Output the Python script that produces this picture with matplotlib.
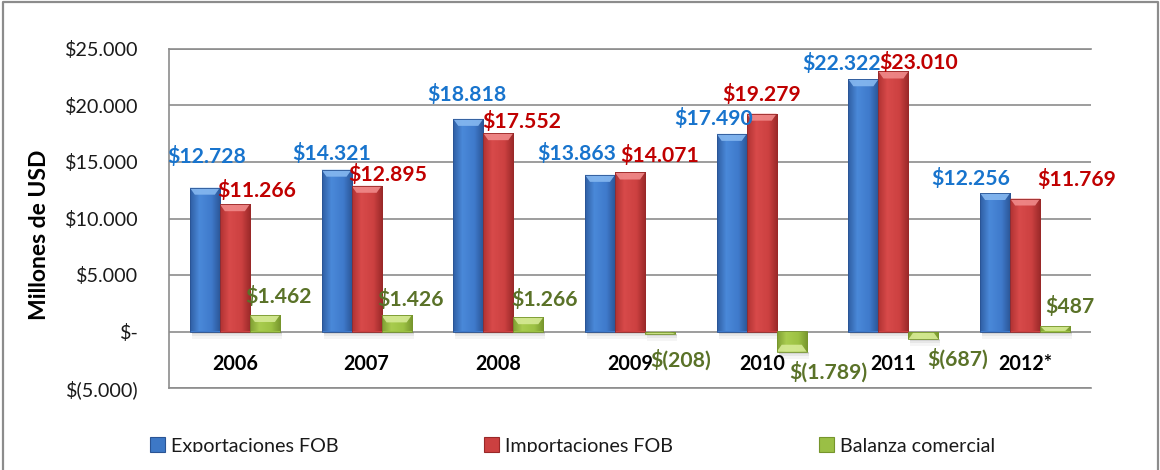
import numpy as np
import matplotlib
matplotlib.use("Agg")
import matplotlib.pyplot as plt
from matplotlib.patches import Rectangle, Polygon
from matplotlib.lines import Line2D
from matplotlib.colors import LinearSegmentedColormap
from matplotlib.transforms import Bbox, TransformedBbox

# ---------------- data ----------------
years = ["2006", "2007", "2008", "2009", "2010", "2011", "2012*"]
exportaciones = [12728, 14321, 18818, 13863, 17490, 22322, 12256]
importaciones = [11266, 12895, 17552, 14071, 19279, 23010, 11769]
balanza = [1462, 1426, 1266, -208, -1789, -687, 487]
series_names = ["Exportaciones FOB", "Importaciones FOB", "Balanza comercial"]
y_ticks = [-5000, 0, 5000, 10000, 15000, 20000, 25000]

# ---------------- style / layout ----------------
FONT = ["Lato", "DejaVu Sans"]
plt.rcParams["font.family"] = FONT
W, H = 1160, 470
DPI = 100
bar_w = 0.228
offsets = [-1, 0, 1]
grad_stops = [
    ["#2f5ea3", "#4a89d9", "#3f7acb", "#2a5494"],   # blue
    ["#b03232", "#d84a4a", "#cc4141", "#992828"],   # red
    ["#7f9f33", "#a9cc4f", "#9cc143", "#76952c"],   # green
]
cap_colors = ["#86b8f0", "#f08a8a", "#d6ea95"]
label_colors = ["#1874cd", "#c00000", "#5a7228"]
legend_colors = ["#3d78c6", "#cc4040", "#9abf45"]
# label offsets in pixels relative to the bar end (dx, dy)
lbl_off = [
    [(2, 31), (-5, 16), (-1, 24), (-23, 21), (-18, 15), (-22, 16), (-24, 15)],
    [(22, 14), (21, 11), (23, 12), (30, 17), (0, 19), (25, 9), (52, 19)],
    [(14, 18), (14, 16), (16, 18), (21, -26), (37, -20), (34, -20), (15, 19)],
]


def fmt(v):
    if v == 0:
        return "$-"
    s = f"{abs(v):,.0f}".replace(",", ".")
    return f"${s}" if v > 0 else f"$({s})"


fig = plt.figure(figsize=(W / DPI, H / DPI), dpi=DPI)
ax = fig.add_axes([169 / W, 1 - 388 / H, (1091 - 169) / W, (388 - 49) / H])
ymin, ymax = -5000, 25000
xlim = (-0.5, len(years) - 0.5)
ax.set_ylim(ymin, ymax)
ax.set_xlim(*xlim)

px_y = (ymax - ymin) / (388 - 49)          # data units per pixel (y)
px_x = (xlim[1] - xlim[0]) / (1091 - 169)  # data units per pixel (x)

# grid & spines
ax.set_yticks(y_ticks)
ax.set_yticklabels([fmt(v) for v in y_ticks], fontsize=14.2, color="#1a1a1a")
ax.tick_params(axis="y", length=0, pad=22)
ax.set_xticks([])
ax.grid(axis="y", color="#8c8c8c", linewidth=1.2, zorder=0)
for side in ["right"]:
    ax.spines[side].set_visible(False)
for side in ["left", "top", "bottom"]:
    ax.spines[side].set_color("#8c8c8c")
    ax.spines[side].set_linewidth(1.2)
ax.set_axisbelow(True)

x = np.arange(len(years))
all_series = [exportaciones, importaciones, balanza]

for s, vals in enumerate(all_series):
    cmap = LinearSegmentedColormap.from_list(f"g{s}", list(zip([0, 0.3, 0.7, 1.0], grad_stops[s])))
    bars = ax.bar(x + offsets[s] * bar_w, vals, width=bar_w, color=grad_stops[s][2],
                  edgecolor="none", zorder=3)
    for b, v in zip(bars, vals):
        x0, y0 = b.get_x(), b.get_y()
        w, h = b.get_width(), b.get_height()
        lo, hi = min(y0, y0 + h), max(y0, y0 + h)
        # soft shadow below
        for k, a in zip([2, 4, 7], [0.10, 0.08, 0.05]):
            sh = Rectangle((x0 + 2 * px_x, lo - k * px_y), w, k * px_y, facecolor="#404040",
                           alpha=a, edgecolor="none", zorder=2)
            ax.add_patch(sh)
        grad = np.linspace(0, 1, 64).reshape(1, -1)
        im = ax.imshow(grad, cmap=cmap, extent=(x0, x0 + w, lo, hi), aspect="auto",
                       zorder=3.5, interpolation="bilinear")
        im.set_clip_path(b)
        # bevel cap at the outer end
        capd = min(7 * px_y, abs(h) * 0.9)
        ins = 5 * px_x
        if v >= 0:
            top = hi
            poly = [(x0, top), (x0 + w, top), (x0 + w - ins, top - capd), (x0 + ins, top - capd)]
        else:
            top = lo
            poly = [(x0, top), (x0 + w, top), (x0 + w - ins, top + capd), (x0 + ins, top + capd)]
        ax.add_patch(Polygon(poly, closed=True, facecolor=cap_colors[s], edgecolor="none",
                             alpha=0.9, zorder=4))
        ax.add_patch(Rectangle((x0, lo), w, hi - lo, facecolor="none",
                               edgecolor=grad_stops[s][3], linewidth=0.6, zorder=4.5))
    # data labels
    for i, v in enumerate(vals):
        dx, dy = lbl_off[s][i]
        ax.annotate(fmt(v), xy=(x[i] + offsets[s] * bar_w, v), xytext=(dx, dy),
                    textcoords="offset pixels", ha="center", va="center",
                    fontsize=15.2, fontweight="bold", color=label_colors[s], zorder=6,
                    annotation_clip=False)

# category labels near the zero line
for i, yr in enumerate(years):
    ax.annotate(yr, xy=(x[i], 0), xytext=(0, -33), textcoords="offset pixels",
                ha="center", va="center", fontsize=14.2, fontweight="bold", color="#000000",
                annotation_clip=False, zorder=6)

# y axis title
fig.text(40 / W, 1 - 235 / H, "Millones de USD", rotation=90, ha="center", va="center",
         fontsize=16.5, fontweight="bold", color="#000000")

# legend
handles = [Rectangle((0, 0), 1, 1, facecolor=legend_colors[k], edgecolor=grad_stops[k][3],
                     linewidth=0.8) for k in range(3)]
leg = fig.legend(handles, series_names, loc="center left", bbox_to_anchor=(150 / W, 1 - 446 / H),
                 ncol=3, frameon=False, fontsize=14.2, handlelength=0.75, handleheight=0.75,
                 handletextpad=0.3, columnspacing=7.4, borderpad=0, borderaxespad=0)
clip = TransformedBbox(Bbox([[0, 18 / H], [1, 1]]), fig.transFigure)
for t in leg.get_texts():
    t.set_color("#1a1a1a")
    t.set_clip_on(True)
    t.set_clip_box(clip)

# outer frame (open at the bottom, cropped)
fig.add_artist(Line2D([3 / W, 3 / W, 1158 / W, 1158 / W], [0, 1 - 2 / H, 1 - 2 / H, 0],
                      transform=fig.transFigure, color="#8c8c8c", linewidth=1.6))

fig.savefig("out.png", dpi=DPI)
